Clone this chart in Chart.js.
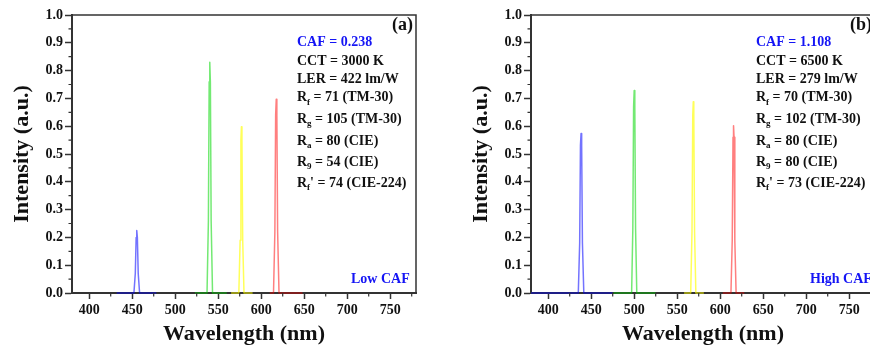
<!DOCTYPE html>
<html>
<head>
<meta charset="utf-8">
<script src="https://cdn.jsdelivr.net/npm/chart.js@4/dist/chart.umd.min.js"></script>
<style>
  html, body { margin: 0; padding: 0; background: #fff; overflow: hidden; }
  #wrap { position: relative; width: 870px; height: 350px; overflow: hidden; }
  .panel { position: absolute; top: 0; width: 430px; height: 350px; }
</style>
</head>
<body>
<div id="wrap">
  <div class="panel" style="left:0"><canvas id="chartA" width="430" height="350"></canvas></div>
  <div class="panel" style="left:459px"><canvas id="chartB" width="430" height="350"></canvas></div>
</div>
<script>
// axis ticks
const xTicks = [400, 450, 500, 550, 600, 650, 700, 750];
const xMinor = [425, 475, 525, 575, 625, 675, 725, 775];
const yTicks = [0, 0.1, 0.2, 0.3, 0.4, 0.5, 0.6, 0.7, 0.8, 0.9, 1.0];
const yMinor = [0.05, 0.15, 0.25, 0.35, 0.45, 0.55, 0.65, 0.75, 0.85, 0.95];

// panel (a) - low CAF spectrum, [wavelength, intensity]
const blueA   = [[432, 0], [452, 0], [453.6, 0.07], [454.6, 0.2], [455.3, 0.225], [456, 0.2], [457, 0.07], [458.6, 0], [478, 0]];
const greenA  = [[523, 0], [537, 0], [538.6, 0.26], [539.5, 0.76], [540.2, 0.83], [540.9, 0.76], [541.8, 0.26], [543.4, 0], [560, 0]];
const yellowA = [[565, 0], [574, 0], [575.5, 0.19], [576.4, 0.55], [577, 0.598], [577.6, 0.55], [578.5, 0.19], [580, 0], [590, 0]];
const redA    = [[610, 0], [614.3, 0], [615.9, 0.22], [616.8, 0.64], [617.5, 0.697], [618.2, 0.64], [619.1, 0.22], [620.7, 0], [648, 0]];

// panel (b) - high CAF spectrum
const blueB   = [[380, 0], [435, 0], [436.6, 0.18], [437.5, 0.53], [438.2, 0.574], [438.9, 0.53], [439.8, 0.18], [441.4, 0], [475, 0]];
const greenB  = [[476, 0], [497, 0], [498.4, 0.23], [499.3, 0.67], [500, 0.728], [500.7, 0.67], [501.6, 0.23], [503, 0], [525, 0]];
const yellowB = [[558, 0], [565.7, 0], [567.2, 0.22], [568.1, 0.64], [568.7, 0.688], [569.3, 0.64], [570.2, 0.22], [571.7, 0], [581, 0]];
const redB    = [[603, 0], [612.5, 0], [614, 0.19], [614.9, 0.56], [615.5, 0.602], [616.1, 0.56], [617, 0.19], [618.5, 0], [628, 0]];

// annotation texts: plain string or [main, subscript, rest]
const infoA = ['CAF = 0.238', 'CCT = 3000 K', 'LER = 422 lm/W',
  ['R', 'f', ' = 71 (TM-30)'], ['R', 'g', ' = 105 (TM-30)'], ['R', 'a', ' = 80 (CIE)'],
  ['R', '9', ' = 54 (CIE)'], ['R', 'f', '\' = 74 (CIE-224)']];
const infoB = ['CAF = 1.108', 'CCT = 6500 K', 'LER = 279 lm/W',
  ['R', 'f', ' = 70 (TM-30)'], ['R', 'g', ' = 102 (TM-30)'], ['R', 'a', ' = 80 (CIE)'],
  ['R', '9', ' = 80 (CIE)'], ['R', 'f', '\' = 73 (CIE-224)']];

const SERIF = '"Liberation Serif", "Times New Roman", serif';
const AXIS = '#333';

const decor = {
  id: 'decor',
  afterDraw(chart, args, opts) {
    const {ctx, chartArea: a, scales: {x, y}} = chart;
    ctx.save();
    ctx.strokeStyle = AXIS;
    ctx.lineWidth = 1.5;
    // top and right frame
    ctx.beginPath();
    ctx.moveTo(a.left, a.top);
    ctx.lineTo(a.right, a.top);
    ctx.lineTo(a.right, a.bottom);
    ctx.stroke();
    // minor ticks
    ctx.lineWidth = 1.2;
    ctx.beginPath();
    xMinor.forEach(v => {
      const px = x.getPixelForValue(v);
      ctx.moveTo(px, a.bottom);
      ctx.lineTo(px, a.bottom + 3.5);
    });
    yMinor.forEach(v => {
      const py = y.getPixelForValue(v);
      ctx.moveTo(a.left, py);
      ctx.lineTo(a.left - 3.5, py);
    });
    ctx.stroke();

    // panel letter
    ctx.fillStyle = '#111';
    ctx.textBaseline = 'middle';
    ctx.textAlign = 'right';
    ctx.font = 'bold 18px ' + SERIF;
    ctx.fillText(opts.letter, a.right - 3, a.top + 10);

    // info block
    ctx.textAlign = 'left';
    const rows = [27, 46, 64, 82.5, 104, 126, 147, 168];
    const tx = a.left + 225;
    opts.info.forEach((line, i) => {
      const ty = a.top + rows[i];
      ctx.fillStyle = i === 0 ? '#1515f5' : '#111';
      ctx.font = 'bold 14px ' + SERIF;
      if (typeof line === 'string') {
        ctx.fillText(line, tx, ty);
      } else {
        ctx.fillText(line[0], tx, ty);
        let w = ctx.measureText(line[0]).width;
        ctx.font = 'bold 9px ' + SERIF;
        ctx.fillText(line[1], tx + w, ty + 5);
        w += ctx.measureText(line[1]).width;
        ctx.font = 'bold 14px ' + SERIF;
        ctx.fillText(line[2], tx + w, ty);
      }
    });

    // CAF label
    ctx.fillStyle = '#1515f5';
    ctx.font = 'bold 14px ' + SERIF;
    ctx.fillText(opts.tag, a.left + 279, a.bottom - 14);
    ctx.restore();
  }
};

function line(points, color) {
  return {
    data: points.map(p => ({x: p[0], y: p[1]})),
    borderColor: color,
    borderWidth: 1.5,
    borderJoinStyle: 'round',
    pointRadius: 0,
    tension: 0,
    clip: 6
  };
}

function makeChart(id, sets, letter, info, tag) {
  return new Chart(document.getElementById(id).getContext('2d'), {
    type: 'line',
    data: {
      datasets: [
        line(sets[0], 'rgba(0, 0, 255, 0.55)'),
        line(sets[1], 'rgba(0, 215, 0, 0.55)'),
        line(sets[2], 'rgba(255, 255, 0, 0.65)'),
        line(sets[3], 'rgba(255, 0, 0, 0.5)')
      ]
    },
    options: {
      responsive: false,
      animation: false,
      layout: {padding: {top: 15, right: 14, left: 0, bottom: 0}},
      plugins: {
        legend: {display: false},
        tooltip: {enabled: false},
        decor: {letter: letter, info: info, tag: tag}
      },
      scales: {
        x: {
          type: 'linear',
          min: 380,
          max: 780,
          afterBuildTicks: s => { s.ticks = xTicks.map(v => ({value: v})); },
          afterFit: s => { s.height = 57; },
          grid: {drawOnChartArea: false, tickLength: 6, tickColor: AXIS, tickWidth: 1.5},
          border: {color: AXIS, width: 2},
          ticks: {color: '#111', padding: 3, maxRotation: 0, font: {family: SERIF, size: 14, weight: 'bold'}},
          title: {
            display: true,
            text: 'Wavelength (nm)',
            color: '#111',
            padding: {top: 0, bottom: 2},
            font: {family: SERIF, size: 22, weight: 'bold', lineHeight: 1.2}
          }
        },
        y: {
          min: 0,
          max: 1,
          afterBuildTicks: s => { s.ticks = yTicks.map(v => ({value: v})); },
          afterFit: s => { s.width = 72; },
          grid: {drawOnChartArea: false, tickLength: 7, tickColor: AXIS, tickWidth: 1.5},
          border: {color: AXIS, width: 2},
          ticks: {color: '#111', padding: 2, callback: v => v.toFixed(1), font: {family: SERIF, size: 14, weight: 'bold'}},
          title: {
            display: true,
            text: 'Intensity (a.u.)',
            color: '#111',
            padding: {top: 9, bottom: 0},
            font: {family: SERIF, size: 22, weight: 'bold', lineHeight: 1.2}
          }
        }
      }
    },
    plugins: [decor]
  });
}

makeChart('chartA', [blueA, greenA, yellowA, redA], '(a)', infoA, 'Low CAF');
makeChart('chartB', [blueB, greenB, yellowB, redB], '(b)', infoB, 'High CAF');
</script>
</body>
</html>
